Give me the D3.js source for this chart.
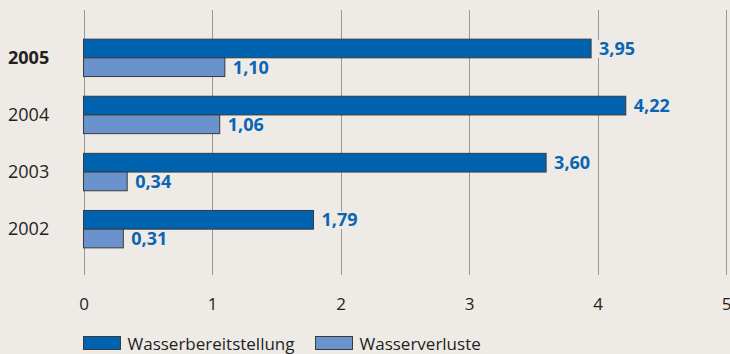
<!DOCTYPE html>
<html>
<head>
<meta charset="utf-8">
<script src="https://cdn.jsdelivr.net/npm/d3@7"></script>
<style>
  html, body { margin: 0; padding: 0; background: #eeeae6; }
  svg { display: block; }
  text { font-family: "Open Sans", "DejaVu Sans", sans-serif; }
</style>
</head>
<body>
<svg id="chart" width="730" height="354"></svg>
<script>
// Jahre (oben das aktuelle Jahr, fett)
const years = ["2005", "2004", "2003", "2002"];
const highlightYear = "2005";
// Werte je Reihe, in gleicher Reihenfolge wie years
const bereitstellung = [3.95, 4.22, 3.60, 1.79];
const verluste = [1.10, 1.06, 0.34, 0.31];
const seriesNames = ["Wasserbereitstellung", "Wasserverluste"];
const seriesColors = ["#0063b0", "#6a93cd"];
const xTicks = [0, 1, 2, 3, 4, 5];

const svg = d3.select("#chart");
const fmt = v => d3.format(".2f")(v).replace(".", ",");

const x = d3.scaleLinear().domain([0, 5]).range([83.5, 726]);
const y = d3.scaleBand().domain(years).range([30, 257]).paddingInner(0.345).paddingOuter(0.16);
const sub = d3.scaleBand().domain([0, 1]).range([0, y.bandwidth()]);

// Gitterlinien
svg.append("g")
  .selectAll("line")
  .data(xTicks)
  .join("line")
  .attr("x1", d => Math.round(x(d)) + 0.5)
  .attr("x2", d => Math.round(x(d)) + 0.5)
  .attr("y1", 10)
  .attr("y2", 275)
  .attr("stroke", "#9a9794")
  .attr("stroke-width", 1);

// Achsenbeschriftung unten
const axis = d3.axisBottom(x).tickValues(xTicks).tickSize(0).tickPadding(0).tickFormat(d => d);
const gAxis = svg.append("g").attr("transform", "translate(0,298)").call(axis);
gAxis.select(".domain").remove();
gAxis.selectAll("text")
  .attr("font-size", 17)
  .attr("fill", "#231f20")
  .attr("font-family", "\"Open Sans\", sans-serif");

// Jahresbeschriftung
svg.append("g")
  .selectAll("text")
  .data(years)
  .join("text")
  .attr("x", 8)
  .attr("y", d => y(d) + y.bandwidth() / 2)
  .attr("dy", "0.35em")
  .attr("font-size", 18)
  .attr("font-weight", d => d === highlightYear ? 700 : 400)
  .attr("fill", "#231f20")
  .text(d => d);

// Balken und Wertelabels
const rows = years.map((yr, i) => ({ yr, vals: [bereitstellung[i], verluste[i]] }));
const groups = svg.append("g").selectAll("g")
  .data(rows)
  .join("g")
  .attr("transform", d => `translate(0,${y(d.yr)})`);

const bars = groups.selectAll("g.bar")
  .data(d => d.vals.map((v, k) => ({ v, k })))
  .join("g")
  .attr("class", "bar");

bars.append("rect")
  .attr("x", x(0))
  .attr("y", d => sub(d.k))
  .attr("width", d => x(d.v) - x(0))
  .attr("height", sub.bandwidth())
  .attr("fill", d => seriesColors[d.k])
  .attr("stroke", "#3a3a3a")
  .attr("stroke-width", 1);

// Hintergrund hinter den Zahlen unterbricht die Gitterlinien
bars.append("rect")
  .attr("x", d => x(d.v) + 3)
  .attr("y", d => sub(d.k) + 1)
  .attr("width", d => fmt(d.v).length * 10.5 + 4)
  .attr("height", sub.bandwidth() - 1)
  .attr("fill", "#eeeae6");

bars.append("text")
  .attr("x", d => x(d.v) + 8)
  .attr("y", d => sub(d.k) + sub.bandwidth() / 2)
  .attr("dy", "0.36em")
  .attr("font-size", 18)
  .attr("font-weight", 700)
  .attr("fill", "#0a66b2")
  .text(d => fmt(d.v));

// Legende
const legendX = [83.5, 315.5];
const leg = svg.append("g").selectAll("g")
  .data(seriesNames)
  .join("g")
  .attr("transform", (d, i) => `translate(${legendX[i]},336.5)`);
leg.append("rect")
  .attr("width", 37)
  .attr("height", 13)
  .attr("fill", (d, i) => seriesColors[i])
  .attr("stroke", "#3a3a3a");
leg.append("text")
  .attr("x", 44)
  .attr("y", 7)
  .attr("dy", "0.36em")
  .attr("font-size", 17)
  .attr("fill", "#231f20")
  .text(d => d);
</script>
</body>
</html>
